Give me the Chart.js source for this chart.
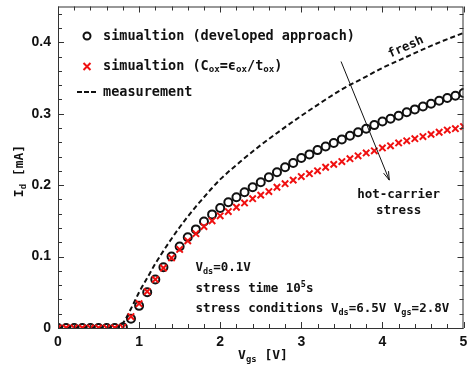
<!DOCTYPE html>
<html>
<head>
<meta charset="utf-8">
<script src="https://cdn.jsdelivr.net/npm/chart.js@4/dist/chart.umd.min.js"></script>
<style>
  html, body { margin: 0; padding: 0; background: #fff; }
  #c { display: block; }
</style>
</head>
<body>
<canvas id="c" width="470" height="366"></canvas>
<script>
// ── data ────────────────────────────────────────────────────
const vgs = [0.0, 0.1, 0.2, 0.3, 0.4, 0.5, 0.6, 0.7, 0.8, 0.9,
             1.0, 1.1, 1.2, 1.3, 1.4, 1.5, 1.6, 1.7, 1.8, 1.9,
             2.0, 2.1, 2.2, 2.3, 2.4, 2.5, 2.6, 2.7, 2.8, 2.9,
             3.0, 3.1, 3.2, 3.3, 3.4, 3.5, 3.6, 3.7, 3.8, 3.9,
             4.0, 4.1, 4.2, 4.3, 4.4, 4.5, 4.6, 4.7, 4.8, 4.9, 5.0];

// simulation (developed approach), mA
const simDeveloped = [0, 0, 0, 0, 0, 0, 0, 0, 0.001, 0.013,
                      0.031, 0.050, 0.068, 0.085, 0.100, 0.114, 0.127, 0.138, 0.149, 0.159,
                      0.168, 0.176, 0.183, 0.190, 0.197, 0.204, 0.211, 0.218, 0.225, 0.231,
                      0.238, 0.243, 0.249, 0.254, 0.259, 0.264, 0.269, 0.274, 0.279, 0.284,
                      0.289, 0.293, 0.297, 0.302, 0.306, 0.310, 0.314, 0.318, 0.322, 0.325, 0.329];

// simulation (Cox = eps_ox / t_ox), mA
const simCox = [0, 0, 0, 0, 0, 0, 0, 0, 0.001, 0.016,
                0.034, 0.051, 0.068, 0.084, 0.098, 0.110, 0.122, 0.132, 0.142, 0.150,
                0.157, 0.163, 0.169, 0.175, 0.181, 0.186, 0.191, 0.197, 0.202, 0.207,
                0.212, 0.216, 0.220, 0.225, 0.229, 0.233, 0.237, 0.241, 0.245, 0.248,
                0.252, 0.255, 0.259, 0.262, 0.265, 0.268, 0.271, 0.274, 0.277, 0.279, 0.282];

// measurement, fresh device
const measVgs   = [0, 0.5, 0.7, 0.8, 0.9, 1.0, 1.1, 1.2, 1.3, 1.4, 1.5, 1.6, 1.7, 1.8, 1.9,
                   2.0, 2.25, 2.5, 2.75, 3.0, 3.25, 3.5, 3.75, 4.0, 4.25, 4.5, 4.75, 5.0];
const measFresh = [0, 0, 0.001, 0.007, 0.027, 0.050, 0.070, 0.090, 0.108, 0.125, 0.141, 0.156, 0.170, 0.183, 0.196,
                   0.208, 0.233, 0.256, 0.277, 0.297, 0.316, 0.334, 0.349, 0.364, 0.377, 0.390, 0.402, 0.413];

const xTicks = [0, 1, 2, 3, 4, 5];
const yTicks = [0, 0.1, 0.2, 0.3, 0.4];

const MONO = '"DejaVu Sans Mono", monospace';
const INK = '#111';
const RED = '#f01010';

const pts = (xs, ys) => xs.map((x, i) => ({ x, y: ys[i] }));

// text with sub/superscripts: parts = [['V'], ['ds','sub'], ['=0.1V']]
function richWidth(ctx, parts, size) {
  let w = 0;
  for (const [t, k] of parts) {
    ctx.font = `bold ${k ? size * 0.68 : size}px ${MONO}`;
    w += ctx.measureText(t).width;
  }
  return w;
}
function drawRich(ctx, parts, x, y, size, align) {
  let cx = align === 'center' ? x - richWidth(ctx, parts, size) / 2 : x;
  ctx.textBaseline = 'middle';
  ctx.textAlign = 'left';
  for (const [t, k] of parts) {
    ctx.font = `bold ${k ? size * 0.68 : size}px ${MONO}`;
    const dy = k === 'sub' ? size * 0.3 : k === 'sup' ? -size * 0.35 : 0;
    ctx.fillText(t, cx, y + dy);
    cx += ctx.measureText(t).width;
  }
}

// ── frame, inward ticks, titles, legend, notes ───────────────
const decor = {
  id: 'decor',
  afterDatasetsDraw(chart) {
    const { ctx, chartArea: a, scales: { x, y } } = chart;
    ctx.save();
    ctx.strokeStyle = '#333';
    ctx.lineWidth = 1;
    ctx.strokeRect(a.left + 0.5, a.top + 0.5, a.right - a.left - 1, a.bottom - a.top);

    ctx.beginPath();
    for (let i = 0; i <= 25; i++) {
      const px = Math.round(x.getPixelForValue(i * 0.2)) + 0.5;
      const len = i % 5 === 0 ? 6 : 4;
      ctx.moveTo(px, a.bottom); ctx.lineTo(px, a.bottom - len);
      ctx.moveTo(px, a.top); ctx.lineTo(px, a.top + len);
    }
    for (let i = 0; i <= 22; i++) {
      const py = Math.round(y.getPixelForValue(i * 0.02)) + 0.5;
      const len = i % 5 === 0 ? 6 : 4;
      ctx.moveTo(a.left, py); ctx.lineTo(a.left + len, py);
      ctx.moveTo(a.right, py); ctx.lineTo(a.right - len, py);
    }
    ctx.stroke();

    ctx.fillStyle = INK;
    // axis titles
    drawRich(ctx, [['V'], ['gs', 'sub'], [' [V]']], 263, 356, 13, 'center');
    ctx.save();
    ctx.translate(20, 171);
    ctx.rotate(-Math.PI / 2);
    drawRich(ctx, [['I'], ['d', 'sub'], [' [mA]']], 0, 0, 13, 'center');
    ctx.restore();

    // legend
    ctx.strokeStyle = INK;
    ctx.lineWidth = 2;
    ctx.beginPath(); ctx.arc(87, 36, 3.5, 0, Math.PI * 2); ctx.stroke();
    ctx.strokeStyle = RED;
    ctx.beginPath();
    ctx.moveTo(83.5, 63); ctx.lineTo(90.5, 70);
    ctx.moveTo(90.5, 63); ctx.lineTo(83.5, 70);
    ctx.stroke();
    ctx.strokeStyle = INK;
    ctx.setLineDash([5, 2]);
    ctx.beginPath(); ctx.moveTo(77, 92); ctx.lineTo(98, 92); ctx.stroke();
    ctx.setLineDash([]);
    drawRich(ctx, [['simualtion (developed approach)']], 103, 36, 13.5);
    drawRich(ctx, [['simualtion (C'], ['ox', 'sub'], ['=\u03f5'], ['ox', 'sub'], ['/t'], ['ox', 'sub'], [')']], 103, 66, 13.5);
    drawRich(ctx, [['measurement']], 103, 92, 13.5);

    // "fresh" label along the curve
    ctx.save();
    ctx.translate(x.getPixelForValue(4.29), y.getPixelForValue(0.393));
    ctx.rotate(-24 * Math.PI / 180);
    drawRich(ctx, [['fresh']], 0, 0, 12.5, 'center');
    ctx.restore();

    // hot-carrier arrow
    const x0 = x.getPixelForValue(3.49), y0 = y.getPixelForValue(0.373);
    const x1 = x.getPixelForValue(4.085), y1 = y.getPixelForValue(0.207);
    ctx.lineWidth = 1;
    ctx.beginPath(); ctx.moveTo(x0, y0); ctx.lineTo(x1, y1); ctx.stroke();
    const ang = Math.atan2(y1 - y0, x1 - x0);
    ctx.beginPath();
    ctx.moveTo(x1 - 9 * Math.cos(ang - 0.3), y1 - 9 * Math.sin(ang - 0.3));
    ctx.lineTo(x1, y1);
    ctx.lineTo(x1 - 9 * Math.cos(ang + 0.3), y1 - 9 * Math.sin(ang + 0.3));
    ctx.stroke();
    drawRich(ctx, [['hot-carrier']], x.getPixelForValue(4.2), y.getPixelForValue(0.186), 12.5, 'center');
    drawRich(ctx, [['stress']], x.getPixelForValue(4.2), y.getPixelForValue(0.164), 12.5, 'center');

    // conditions
    const lx = x.getPixelForValue(1.695);
    drawRich(ctx, [['V'], ['ds', 'sub'], ['=0.1V']], lx, y.getPixelForValue(0.084), 12.5);
    drawRich(ctx, [['stress time 10'], ['5', 'sup'], ['s']], lx, y.getPixelForValue(0.0545), 12.5);
    drawRich(ctx, [['stress conditions V'], ['ds', 'sub'], ['=6.5V V'], ['gs', 'sub'], ['=2.8V']], lx, y.getPixelForValue(0.0266), 12.5);
    ctx.restore();
  }
};

new Chart(document.getElementById('c'), {
  type: 'scatter',
  data: {
    datasets: [
      {
        label: 'simualtion (Cox=eox/tox)',
        data: pts(vgs, simCox),
        showLine: false,
        pointStyle: 'crossRot',
        pointRadius: 4.5,
        borderColor: RED,
        borderWidth: 2,
        order: 0
      },
      {
        label: 'simualtion (developed approach)',
        data: pts(vgs, simDeveloped),
        showLine: false,
        pointStyle: 'circle',
        pointRadius: 4,
        borderColor: INK,
        backgroundColor: 'rgba(0,0,0,0)',
        borderWidth: 2,
        order: 1
      },
      {
        label: 'measurement',
        data: pts(measVgs, measFresh),
        showLine: true,
        pointRadius: 0,
        borderColor: INK,
        borderWidth: 2,
        borderDash: [5, 3],
        cubicInterpolationMode: 'monotone',
        fill: false,
        order: 2
      }
    ]
  },
  options: {
    responsive: false,
    animation: false,
    // the chart area should span x 58..468, y 6..328
    layout: { padding: { top: 6, right: -1, left: 0, bottom: 0 } },
    plugins: { legend: { display: false }, tooltip: { enabled: false } },
    scales: {
      x: {
        type: 'linear', min: 0, max: 5,
        afterBuildTicks: s => { s.ticks = xTicks.map(v => ({ value: v })); },
        afterFit: s => { s.height = 38; s.paddingLeft = 0; s.paddingRight = 0; },
        ticks: { color: INK, padding: 6, maxRotation: 0,
                 font: { family: '"Liberation Sans", Arial, sans-serif', weight: 'bold', size: 14 } },
        grid: { display: false, drawTicks: false },
        border: { display: false }
      },
      y: {
        type: 'linear', min: 0, max: 0.45,
        afterBuildTicks: s => { s.ticks = yTicks.map(v => ({ value: v })); },
        afterFit: s => { s.width = 58; s.paddingTop = 0; s.paddingBottom = 0; },
        ticks: { color: INK, padding: 7,
                 callback: v => v === 0 ? '0' : v.toFixed(1),
                 font: { family: '"Liberation Sans", Arial, sans-serif', weight: 'bold', size: 14 } },
        grid: { display: false, drawTicks: false },
        border: { display: false }
      }
    }
  },
  plugins: [decor]
});
</script>
</body>
</html>
